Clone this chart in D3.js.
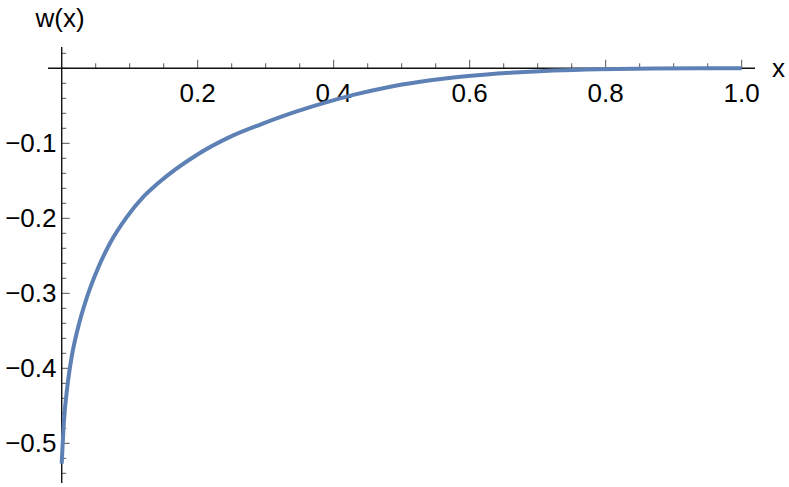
<!DOCTYPE html>
<html>
<head>
<meta charset="utf-8">
<script src="https://cdn.jsdelivr.net/npm/d3@7"></script>
<style>
  body { margin: 0; background: #fff; }
  text { font-family: "Liberation Sans", Arial, sans-serif; }
</style>
</head>
<body>
<script>
// values
var xs = [0, 0.0034, 0.0083, 0.0147, 0.0244, 0.0368, 0.0515, 0.071, 0.0956, 0.120, 0.142,
          0.1985, 0.2475, 0.2965, 0.3456, 0.385, 0.4288, 0.478, 0.527, 0.576, 0.625,
          0.674, 0.723, 0.79, 0.87, 1.0];
var ws = [-0.527, -0.469, -0.4245, -0.3845, -0.3445, -0.306, -0.2705, -0.2333, -0.1985, -0.1715, -0.153,
          -0.1156, -0.0915, -0.0735, -0.0575, -0.0465, -0.0355, -0.0255, -0.018, -0.0123, -0.0082,
          -0.0052, -0.003, -0.0012, -0.0003, 0];
var xTicks = [0.2, 0.4, 0.6, 0.8, 1.0];
var yTicks = [-0.1, -0.2, -0.3, -0.4, -0.5];

var width = 789, height = 487;

var x = d3.scaleLinear().domain([0, 1]).range([61.7, 741.7]);
var y = d3.scaleLinear().domain([0, -0.5]).range([68.3, 443.3]);

var svg = d3.select("body").append("svg")
    .attr("width", width)
    .attr("height", height);

// minor/major ticks
var xMinor = d3.range(0.05, 1.001, 0.05);
var yMinor = d3.range(0.02, -0.5501, -0.02);

svg.selectAll(".xtick")
    .data(xMinor)
    .enter().append("line")
    .attr("x1", function(d) { return x(d); })
    .attr("x2", function(d) { return x(d); })
    .attr("y1", y(0))
    .attr("y2", function(d) {
        var major = Math.abs(d / 0.2 - Math.round(d / 0.2)) < 1e-6;
        return y(0) - (major ? 8.5 : 5);
    })
    .attr("stroke", "#555")
    .attr("stroke-width", 1);

svg.selectAll(".ytick")
    .data(yMinor)
    .enter().append("line")
    .attr("y1", function(d) { return y(d); })
    .attr("y2", function(d) { return y(d); })
    .attr("x1", x(0))
    .attr("x2", function(d) {
        var major = Math.abs(d / 0.1 - Math.round(d / 0.1)) < 1e-6 && Math.abs(d) > 1e-6;
        return x(0) + (major ? 8 : 4.5);
    })
    .attr("stroke", "#555")
    .attr("stroke-width", 1);

// axes
svg.append("line")
    .attr("x1", 48).attr("x2", 755)
    .attr("y1", y(0)).attr("y2", y(0))
    .attr("stroke", "#111").attr("stroke-width", 1.4);

svg.append("line")
    .attr("x1", x(0)).attr("x2", x(0))
    .attr("y1", 47).attr("y2", 483)
    .attr("stroke", "#111").attr("stroke-width", 1.4);

// tick labels
svg.selectAll(".xlab")
    .data(xTicks)
    .enter().append("text")
    .attr("x", function(d) { return x(d); })
    .attr("y", 102)
    .attr("text-anchor", "middle")
    .attr("font-size", 26)
    .text(function(d) { return d.toFixed(1); });

svg.selectAll(".ylab")
    .data(yTicks)
    .enter().append("text")
    .attr("x", 56.5)
    .attr("y", function(d) { return y(d) + 9; })
    .attr("text-anchor", "end")
    .attr("font-size", 26)
    .text(function(d) { return "\u2212" + Math.abs(d).toFixed(1); });

svg.append("text")
    .attr("x", 60).attr("y", 27)
    .attr("text-anchor", "middle")
    .attr("font-size", 26)
    .text("w(x)");

svg.append("text")
    .attr("x", 772).attr("y", 77)
    .attr("font-size", 26)
    .text("x");

// curve
var line = d3.line()
    .x(function(d, i) { return x(xs[i]); })
    .y(function(d, i) { return y(ws[i]); })
    .curve(d3.curveMonotoneX);

svg.append("path")
    .datum(xs)
    .attr("d", line)
    .attr("fill", "none")
    .attr("stroke", "#5E81B5")
    .attr("stroke-width", 4);
</script>
</body>
</html>
